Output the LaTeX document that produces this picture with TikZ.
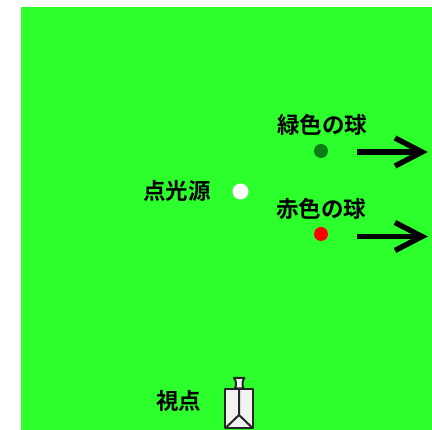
\documentclass[tikz,border=0pt]{standalone}
\usepackage{fontspec}
\newfontfamily\cjk{Noto Sans CJK JP}[BoldFont={Noto Sans CJK JP Bold}]
\tikzset{
  x=1pt,y=-1pt,
  lbl/.style={inner sep=0pt,font=\cjk\bfseries\fontsize{22.5}{22.5}\selectfont},
  ball/.style={circle,inner sep=0pt,minimum size=#1},
  thickarrow/.style={line width=5.4pt,black,line join=miter},
  cam/.style={draw=black!85,line width=2pt,fill=white!95!black,line join=round}
}
\definecolor{bg}{RGB}{44,255,44}
\definecolor{dgreen}{RGB}{10,125,20}
\begin{document}
\begin{tikzpicture}
\useasboundingbox (0,0) rectangle (432,430);
\fill[bg] (21,7) rectangle (432,430);
\node[ball=14,fill=dgreen] (green) at (321,151) {};
\node[ball=14,fill=red] (redball) at (321,234) {};
\node[ball=16,fill=white] (light) at (240.5,191.5) {};
\node[lbl] (tg) at (322,125) {緑色の球};
\node[lbl] (tr) at (321,209) {赤色の球};
\node[lbl] (tl) at (177,191) {点光源};
\node[lbl] (tv) at (178.5,401) {視点};
% arrows
\coordinate (g0) at (357,152); \coordinate (g1) at (422,152);
\coordinate (r0) at (357,236.5); \coordinate (r1) at (422,236.5);
\draw[thickarrow] (g0) -- (g1);
\draw[thickarrow] (395,138) -- (g1) -- (395,166);
\draw[thickarrow] (r0) -- (r1);
\draw[thickarrow] (395,222.5) -- (r1) -- (395,250.5);
% viewpoint
\draw[cam] (234,378) -- (244.5,378) .. controls (242,381) and (242,385) .. (243.5,388.5) -- (235,388.5) .. controls (236.5,385) and (236.5,381) .. (234,378) -- cycle;
\draw[cam] (225,389) rectangle (253,428);
\draw[cam] (239,389) -- (239,415) -- (226,427.5);
\draw[cam] (239,415) -- (252,427.5);
\end{tikzpicture}
\end{document}
